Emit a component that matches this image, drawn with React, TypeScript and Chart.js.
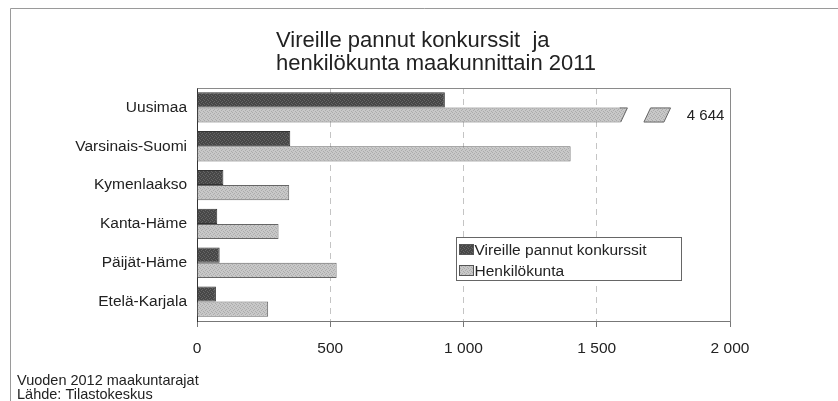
import React, { useEffect, useRef } from "react";
import { Chart, registerables } from "chart.js";

Chart.register(...registerables);

const categories = ["Uusimaa", "Varsinais-Suomi", "Kymenlaakso", "Kanta-Häme", "Päijät-Häme", "Etelä-Karjala"];
const konkurssit = [930, 350, 99, 76, 85, 71];
const henkilokunta = [4644, 1402, 346, 306, 524, 267];
const seriesNames = ["Vireille pannut konkurssit", "Henkilökunta"];
const xTickValues = [0, 500, 1000, 1500, 2000];
const titleLines = ["Vireille pannut konkurssit  ja", "henkilökunta maakunnittain 2011"];
const noteLines = ["Vuoden 2012 maakuntarajat", "Lähde: Tilastokeskus"];

const AXIS_MIN = xTickValues[0];
const AXIS_MAX = xTickValues[xTickValues.length - 1];
const STEP = xTickValues[1] - xTickValues[0];
const BREAK_AT = 1590;
const BREAK_SLANT = 25;
const PIECE_START = 1677;
const PIECE_END = 1752;
const BREAK_LABEL_AT = 1838;

const FONT = "'Liberation Sans', Arial, sans-serif";

function fmt(v: number): string {
  if (v >= 1000) {
    const th = Math.floor(v / 1000);
    const rest = String(Math.round(v % 1000)).padStart(3, "0");
    return `${th} ${rest}`;
  }
  return String(v);
}

function makePattern(c1: string, c2: string): CanvasPattern | string {
  const cv = document.createElement("canvas");
  cv.width = 4;
  cv.height = 4;
  const g = cv.getContext("2d");
  if (!g) return c1;
  g.fillStyle = c1;
  g.fillRect(0, 0, 4, 4);
  g.fillStyle = c2;
  g.fillRect(0, 0, 1, 1);
  g.fillRect(2, 1, 1, 1);
  g.fillRect(1, 2, 1, 1);
  g.fillRect(3, 3, 1, 1);
  const p = g.createPattern(cv, "repeat");
  return p || c1;
}

export default function App() {
  const ref = useRef<HTMLCanvasElement | null>(null);

  useEffect(() => {
    if (!ref.current) return;
    const darkFill = makePattern("#474747", "#666666");
    const lightFill = makePattern("#c8c8c8", "#ababab");

    const decorPlugin = {
      id: "decor",
      beforeDraw(chart: any) {
        const ctx = chart.ctx;
        ctx.save();
        ctx.fillStyle = "#ffffff";
        ctx.fillRect(0, 0, chart.width, chart.height);
        ctx.strokeStyle = "#9a9a9a";
        ctx.lineWidth = 1;
        ctx.beginPath();
        ctx.moveTo(10.5, chart.height);
        ctx.lineTo(10.5, 8.5);
        ctx.lineTo(chart.width, 8.5);
        ctx.stroke();
        ctx.restore();
      },
      afterDatasetsDraw(chart: any) {
        const ctx = chart.ctx;
        const xs = chart.scales.x;
        const meta = chart.getDatasetMeta(1);
        ctx.save();
        henkilokunta.forEach((v, i) => {
          if (v <= AXIS_MAX) return;
          const bar = meta.data[i];
          const { y, height } = bar.getProps(["y", "height"], true);
          const top = y - height / 2;
          const bottom = y + height / 2;
          const xb = xs.getPixelForValue(BREAK_AT);
          const xbt = xs.getPixelForValue(BREAK_AT + BREAK_SLANT);
          ctx.fillStyle = lightFill;
          ctx.strokeStyle = "#666666";
          ctx.lineWidth = 1;
          ctx.beginPath();
          ctx.moveTo(xb - 1, top + 0.5);
          ctx.lineTo(xbt, top + 0.5);
          ctx.lineTo(xb, bottom - 0.5);
          ctx.lineTo(xb - 1, bottom - 0.5);
          ctx.closePath();
          ctx.fill();
          ctx.beginPath();
          ctx.moveTo(xb - 1, top + 0.5);
          ctx.lineTo(xbt, top + 0.5);
          ctx.lineTo(xb, bottom - 0.5);
          ctx.stroke();
          const p1 = xs.getPixelForValue(PIECE_START);
          const p2 = xs.getPixelForValue(PIECE_END);
          const sl = xs.getPixelForValue(BREAK_SLANT) - xs.getPixelForValue(0);
          ctx.beginPath();
          ctx.moveTo(p1, bottom - 0.5);
          ctx.lineTo(p1 + sl, top + 0.5);
          ctx.lineTo(p2 + sl, top + 0.5);
          ctx.lineTo(p2, bottom - 0.5);
          ctx.closePath();
          ctx.fill();
          ctx.stroke();
          ctx.fillStyle = "#222222";
          ctx.font = `15px ${FONT}`;
          ctx.textAlign = "left";
          ctx.textBaseline = "middle";
          ctx.fillText(fmt(v), xs.getPixelForValue(BREAK_LABEL_AT), y + 1);
        });
        ctx.restore();
      },
      afterDraw(chart: any) {
        const ctx = chart.ctx;
        const area = chart.chartArea;
        ctx.save();
        // plot frame top & right
        ctx.strokeStyle = "#8a8a8a";
        ctx.lineWidth = 1;
        ctx.beginPath();
        ctx.moveTo(Math.round(area.left) + 0.5, Math.round(area.top) + 0.5);
        ctx.lineTo(Math.round(area.right) + 0.5, Math.round(area.top) + 0.5);
        ctx.lineTo(Math.round(area.right) + 0.5, Math.round(area.bottom) + 0.5);
        ctx.stroke();
        // title
        ctx.fillStyle = "#222222";
        ctx.font = `22px ${FONT}`;
        ctx.textAlign = "left";
        ctx.textBaseline = "middle";
        ctx.fillText(titleLines[0], 276, 41);
        ctx.fillText(titleLines[1], 276, 64);
        // notes
        ctx.font = `14.5px ${FONT}`;
        ctx.fillText(noteLines[0], 17, 381);
        ctx.fillText(noteLines[1], 17, 395);
        // legend
        const lx = 456.5, ly = 237.5, lw = 225, lh = 43;
        ctx.fillStyle = "#ffffff";
        ctx.fillRect(lx, ly, lw, lh);
        ctx.strokeStyle = "#666666";
        ctx.strokeRect(lx, ly, lw, lh);
        const fills = [darkFill, lightFill];
        ctx.font = `15.5px ${FONT}`;
        seriesNames.forEach((name, i) => {
          const cy = ly + 12 + i * 21;
          ctx.fillStyle = fills[i];
          ctx.fillRect(lx + 3, cy - 5, 14, 10);
          ctx.strokeStyle = "#555555";
          ctx.strokeRect(lx + 3, cy - 5, 14, 10);
          ctx.fillStyle = "#222222";
          ctx.fillText(name, lx + 18, cy + 1);
        });
        ctx.restore();
      },
    };

    const chart = new Chart(ref.current, {
      type: "bar",
      data: {
        labels: categories,
        datasets: [
          {
            label: seriesNames[0],
            data: konkurssit,
            backgroundColor: darkFill as any,
            borderColor: "#333333",
            borderWidth: 1,
            categoryPercentage: 0.78,
            barPercentage: 1,
          },
          {
            label: seriesNames[1],
            data: henkilokunta.map((v) => Math.min(v, BREAK_AT)),
            backgroundColor: lightFill as any,
            borderColor: "#666666",
            borderWidth: 1,
            borderSkipped: ((c: any) => (henkilokunta[c.dataIndex] > AXIS_MAX ? "right" : "start")) as any,
            categoryPercentage: 0.78,
            barPercentage: 1,
          },
        ],
      },
      options: {
        indexAxis: "y",
        responsive: false,
        animation: false,
        events: [],
        layout: { padding: { left: 0, top: 88, right: 108, bottom: 30 } },
        plugins: {
          legend: { display: false },
          title: { display: false },
          tooltip: { enabled: false },
        },
        scales: {
          x: {
            min: AXIS_MIN,
            max: AXIS_MAX,
            afterFit: (s: any) => {
              s.height = 50;
            },
            grid: {
              color: "#c4c4c4",
              lineWidth: 1,
              drawTicks: true,
              tickLength: 6,
              tickColor: "#777777",
              tickBorderDash: [],
            } as any,
            border: { display: true, color: "#777777", dash: [6, 5] } as any,
            ticks: {
              stepSize: STEP,
              color: "#222222",
              font: { family: FONT, size: 15.5 },
              padding: 12,
              callback: (v: any) => fmt(Number(v)),
            },
          },
          y: {
            afterFit: (s: any) => {
              s.width = 197;
            },
            grid: { display: false, drawTicks: false },
            border: { display: true, color: "#333333" },
            ticks: {
              color: "#222222",
              font: { family: FONT, size: 15.5 },
              padding: 10,
            },
          },
        },
      },
      plugins: [decorPlugin],
    });
    return () => chart.destroy();
  }, []);

  return (
    <div style={{ position: "absolute", left: 0, top: 0, width: 838, height: 401, background: "#fff" }}>
      <canvas ref={ref} width={838} height={401} style={{ display: "block", width: 838, height: 401 }} />
    </div>
  );
}
